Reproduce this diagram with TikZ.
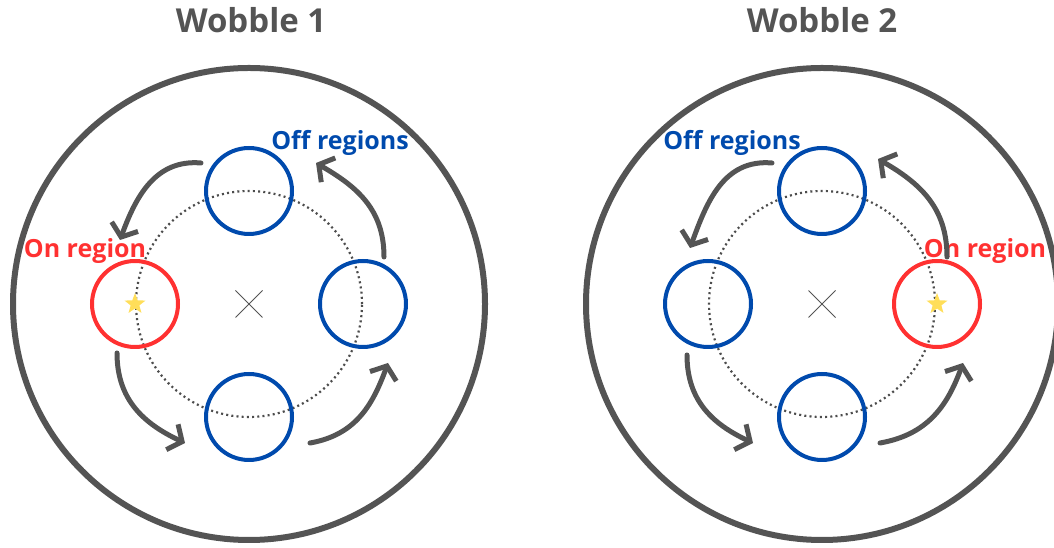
\documentclass[tikz,border=0pt]{standalone}
\usepackage{fontspec}
\setmainfont{Open Sans}
\usetikzlibrary{calc,arrows.meta,shapes.geometric,shapes.misc}
\definecolor{gris}{HTML}{545454}
\definecolor{bleu}{HTML}{004AAD}
\definecolor{rouge}{HTML}{FF3131}
\definecolor{jaune}{HTML}{FFDE59}

\begin{document}
\begin{tikzpicture}[x=1pt,y=1pt,
  region/.style={circle,line width=4pt,minimum size=86pt,inner sep=0pt},
  off/.style={region,draw=bleu},
  on/.style={region,draw=rouge},
  centre/.style={cross out,draw=gris,line width=1pt,minimum size=26pt,inner sep=0pt},
  etoile/.style={star,star points=5,star point ratio=2.4,fill=jaune,minimum size=22pt,inner sep=0pt},
  bord/.style={draw=gris,line width=6pt},
  orbite/.style={draw=gris!90!black,line width=2.2pt,dash pattern=on 2pt off 3.2pt},
  fleche/.style={draw=gris,line width=5pt,line cap=round,looseness=1.05,-{Straight Barb[length=11pt,width=28pt]}},
  titre/.style={anchor=base,text=gris,font=\fontsize{33}{40}\selectfont\bfseries},
  legende/.style={anchor=base,font=\fontsize{25}{30}\selectfont\bfseries}]
\useasboundingbox (0,0) rectangle (1054,548);

% titres
\node[titre] (t1) at (251,515) {Wobble 1};
\node[titre] (t2) at (822,515) {Wobble 2};

% wobble 1
\node[centre] (c1) at (249,244) {};
\draw[bord] (c1) circle (236);
\draw[orbite] (c1) circle (113);
\node[off] (h1) at (249,357) {};
\node[on]  (g1) at (135,244) {};
\node[off] (d1) at (363,244) {};
\node[off] (b1) at (249,131) {};
\node[etoile] (s1) at (g1) {};
\node[legende,text=bleu] (l1) at (340,398) {Off regions};
\node[legende,text=rouge] (r1) at (85,290) {On region};

\draw[fleche] ($(h1)+(-48,28)$) to[out=175,in=70] ($(g1)+(-15,64)$);
\draw[fleche] ($(g1)+(-18,-49)$) to[out=-90,in=155] ($(b1)+(-64,-26)$);
\draw[fleche] ($(b1)+(61,-26)$) to[out=10,in=-110] ($(d1)+(25,-59)$);
\draw[fleche] ($(d1)+(21,47)$) to[out=90,in=-30] ($(h1)+(67,28)$);

% wobble 2
\node[centre] (c2) at (822,244) {};
\draw[bord] (c2) circle (236);
\draw[orbite] (c2) circle (113);
\node[off] (h2) at (822,357) {};
\node[off] (g2) at (708,244) {};
\node[on]  (d2) at (937,244) {};
\node[off] (b2) at (822,131) {};
\node[etoile] (s2) at (d2) {};
\node[legende,text=bleu] (l2) at (732,398) {Off regions};
\node[legende,text=rouge] (r2) at (985,290) {On region};

\draw[fleche] ($(h2)+(-50,28)$) to[out=175,in=70] ($(g2)+(-18,56)$);
\draw[fleche] ($(g2)+(-21,-51)$) to[out=-90,in=155] ($(b2)+(-69,-26)$);
\draw[fleche] ($(b2)+(58,-26)$) to[out=10,in=-110] ($(d2)+(26,-59)$);
\draw[fleche] ($(d2)+(10,47)$) to[out=90,in=-30] ($(h2)+(56,32)$);
\end{tikzpicture}
\end{document}
